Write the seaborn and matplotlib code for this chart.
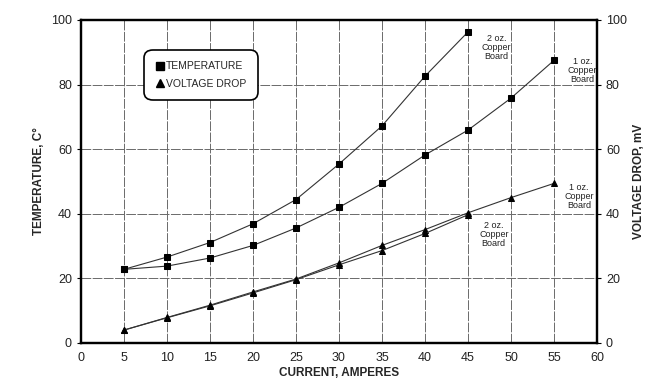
import numpy as np
import pandas as pd
import matplotlib
matplotlib.use("Agg")
import matplotlib.pyplot as plt
from matplotlib.lines import Line2D
import seaborn as sns

# data
current_2oz = [5, 10, 15, 20, 25, 30, 35, 40, 45]
current_1oz = [5, 10, 15, 20, 25, 30, 35, 40, 45, 50, 55]
temp_2oz = [22.8, 26.6, 31.1, 36.9, 44.4, 55.4, 67.2, 82.6, 96.3]
temp_1oz = [22.8, 23.8, 26.3, 30.2, 35.6, 42.0, 49.4, 58.2, 65.9, 75.8, 87.5]
volt_2oz = [4.0, 7.8, 11.5, 15.5, 19.6, 24.2, 28.6, 33.9, 39.7]
volt_1oz = [4.0, 7.9, 11.7, 15.8, 19.8, 24.8, 30.2, 35.1, 40.3, 45.0, 49.4]
x_ticks = [0, 5, 10, 15, 20, 25, 30, 35, 40, 45, 50, 55, 60]
y_ticks = [0, 20, 40, 60, 80, 100]

temp_df = pd.concat([
    pd.DataFrame({"current": current_2oz, "value": temp_2oz, "board": "2 oz."}),
    pd.DataFrame({"current": current_1oz, "value": temp_1oz, "board": "1 oz."}),
])
volt_df = pd.concat([
    pd.DataFrame({"current": current_2oz, "value": volt_2oz, "board": "2 oz."}),
    pd.DataFrame({"current": current_1oz, "value": volt_1oz, "board": "1 oz."}),
])

sns.set_style("white")
plt.rcParams["font.family"] = ["Liberation Sans", "DejaVu Sans"]

fig = plt.figure(figsize=(6.5, 3.91), dpi=100)
ax = fig.add_axes([0.1246, 0.1228, 0.7938, 0.8261])
ax2 = ax.twinx()

line_col = "#333333"
sns.lineplot(data=temp_df, x="current", y="value", units="board", estimator=None,
             ax=ax, color=line_col, lw=0.8, marker="s", markersize=5,
             markerfacecolor="black", markeredgecolor="black")
sns.lineplot(data=volt_df, x="current", y="value", units="board", estimator=None,
             ax=ax2, color=line_col, lw=0.8, marker="^", markersize=5,
             markerfacecolor="black", markeredgecolor="black")

for a in (ax, ax2):
    a.set_xlim(0, 60)
    a.set_ylim(0, 100)
    a.set_yticks(y_ticks)

ax.set_xticks(x_ticks)
ax.grid(True, color="#6a6a6a", lw=0.7, ls=(0, (10, 1.5)))
ax.set_axisbelow(True)
ax2.grid(False)
ax.tick_params(axis="both", labelsize=9, length=3, color="black", direction="out",
               labelcolor="#222222")
ax2.tick_params(axis="y", labelsize=9, length=3, color="black", labelcolor="#222222")
for a in (ax, ax2):
    for s in a.spines.values():
        s.set_color("black")
        s.set_linewidth(1.6)

ax.set_xlabel("CURRENT, AMPERES", fontsize=8.5, fontweight="bold", labelpad=2)
ax.set_ylabel("TEMPERATURE, C°", fontsize=8.5, fontweight="bold", labelpad=4)
ax2.set_ylabel("VOLTAGE DROP, mV", fontsize=8.5, fontweight="bold", labelpad=4)

# curve labels
lab = dict(fontsize=6.5, ha="center", va="center", linespacing=1.0, color="#222222")
ax.text(48.3, 91.5, "2 oz.\nCopper\nBoard", **lab)
ax.text(58.3, 84.5, "1 oz.\nCopper\nBoard", **lab)
ax.text(57.9, 45.5, "1 oz.\nCopper\nBoard", **lab)
ax.text(48.0, 33.5, "2 oz.\nCopper\nBoard", **lab)

handles = [
    Line2D([], [], ls="none", marker="s", color="black", markersize=6),
    Line2D([], [], ls="none", marker="^", color="black", markersize=6),
]
leg = ax.legend(handles, ["TEMPERATURE", "VOLTAGE DROP"], loc="center",
                bbox_to_anchor=(0.233, 0.83), fontsize=7.5, frameon=True,
                fancybox=True, handlelength=0.8, handletextpad=0.2,
                borderpad=0.9, labelspacing=0.7)
leg.get_frame().set_edgecolor("black")
leg.get_frame().set_linewidth(1.2)
leg.get_frame().set_alpha(1)
leg.get_frame().set_boxstyle("round", pad=0.2, rounding_size=0.8)

fig.savefig("out.png", dpi=100)
